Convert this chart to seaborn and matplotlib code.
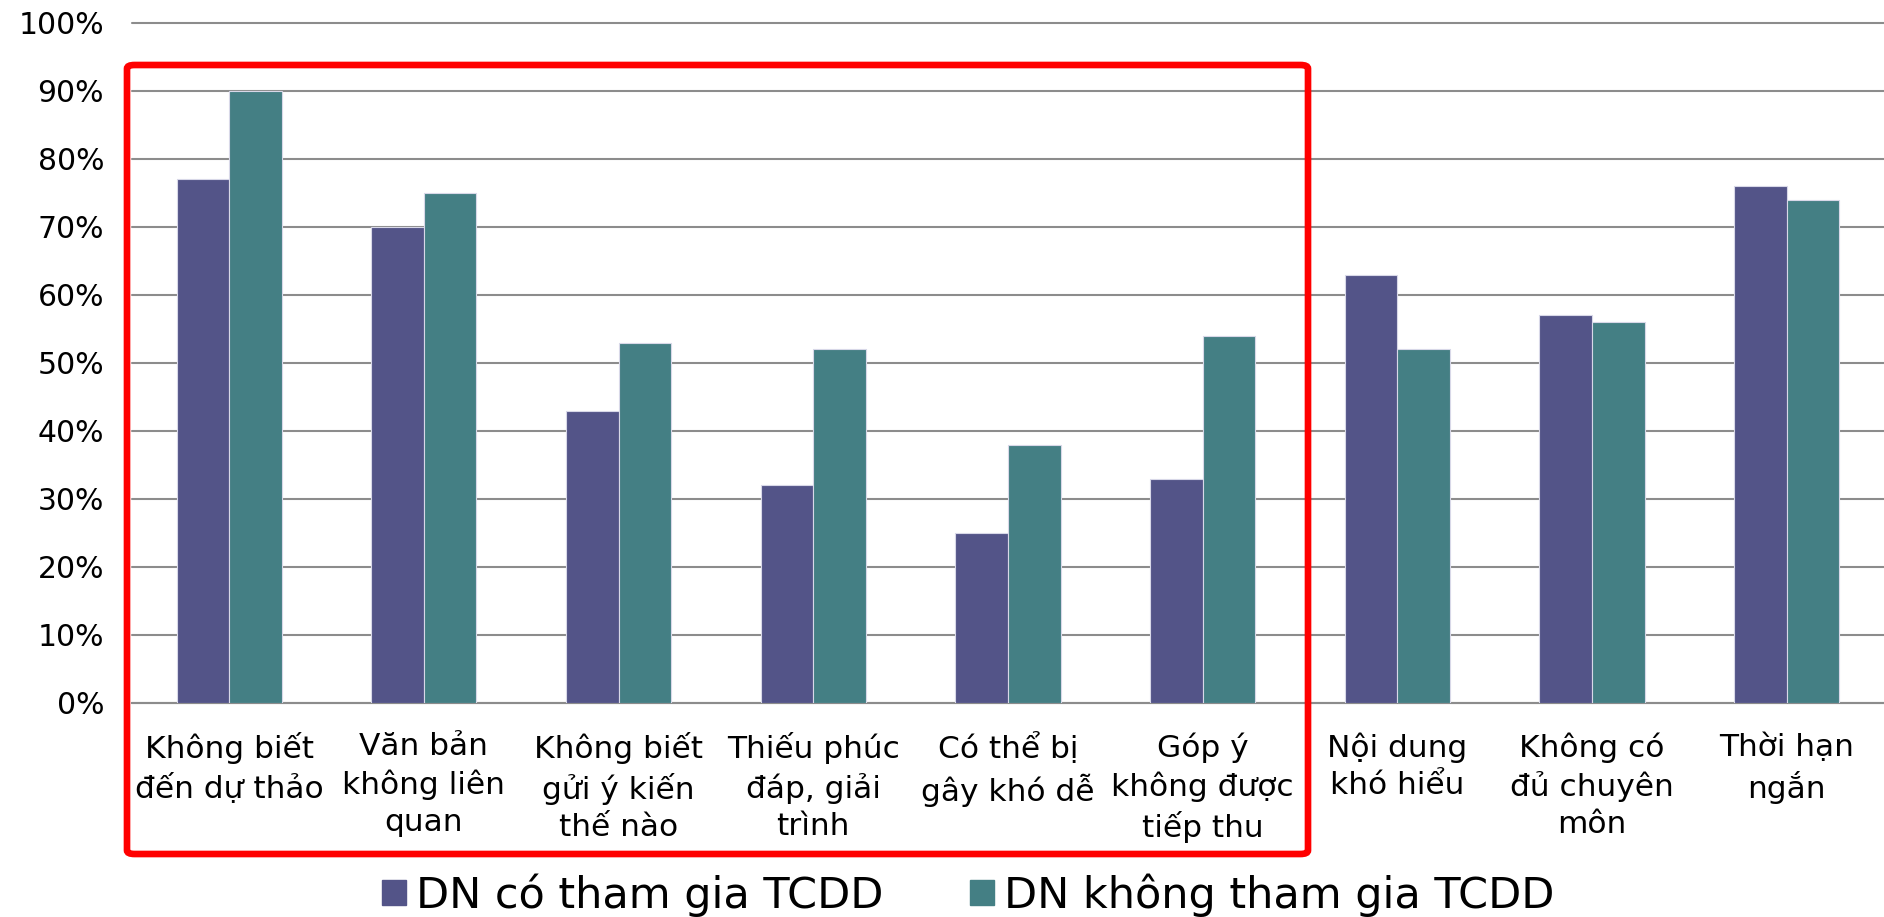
import numpy as np
import pandas as pd
import matplotlib
matplotlib.use("Agg")
import matplotlib.pyplot as plt
from matplotlib.patches import FancyBboxPatch
import seaborn as sns

categories = ["Không biết\nđến dự thảo", "Văn bản\nkhông liên\nquan",
              "Không biết\ngửi ý kiến\nthế nào", "Thiếu phúc\nđáp, giải\ntrình",
              "Có thể bị\ngây khó dễ", "Góp ý\nkhông được\ntiếp thu",
              "Nội dung\nkhó hiểu", "Không có\nđủ chuyên\nmôn", "Thời hạn\nngắn"]
series_names = ["DN có tham gia TCDD", "DN không tham gia TCDD"]
co_tham_gia = [77, 70, 43, 32, 25, 33, 63, 57, 76]
khong_tham_gia = [90, 75, 53, 52, 38, 54, 52, 56, 74]
y_ticks = [0, 10, 20, 30, 40, 50, 60, 70, 80, 90, 100]

colors = ["#535488", "#447F84"]

df = pd.DataFrame({
    "cat": categories * 2,
    "series": [series_names[0]] * len(categories) + [series_names[1]] * len(categories),
    "value": co_tham_gia + khong_tham_gia,
})

sns.set_style("white")
plt.rcParams['font.family'] = ['DejaVu Sans']
plt.rcParams['text.color'] = 'black'
plt.rcParams['xtick.color'] = 'black'
plt.rcParams['ytick.color'] = 'black'

fig = plt.figure(figsize=(18.84, 9.17), dpi=100)
ax = fig.add_axes([0.070, 0.2334, 0.930, 0.975 - 0.2334])

sns.barplot(data=df, x="cat", y="value", hue="series", palette=colors,
            width=0.54, edgecolor="#d8d8e8", linewidth=0.8, ax=ax,
            saturation=1, legend=False, zorder=3)

ax.set_ylim(0, 100)
ax.set_xlim(-0.5, len(categories) - 0.5)
ax.set_yticks(y_ticks)
ax.set_yticklabels([f"{t}%" for t in y_ticks], fontsize=21.5)
ax.tick_params(axis="y", length=0, pad=20)
ax.tick_params(axis="x", length=0, pad=21)
for lbl in ax.get_xticklabels():
    lbl.set_fontsize(22.5)
    lbl.set_linespacing(1.35)
    lbl.set_verticalalignment("top")
ax.set_xlabel("")
ax.set_ylabel("")
ax.yaxis.grid(True, color="#8c8c8c", linewidth=1.5, zorder=0)
for gl in ax.get_ygridlines():
    gl.set_clip_on(False)
ax.set_axisbelow(True)
for s in ["top", "right", "left"]:
    ax.spines[s].set_visible(False)
ax.spines["bottom"].set_color("#8c8c8c")
ax.spines["bottom"].set_linewidth(1.5)

# legend
handles = [plt.Rectangle((0, 0), 1, 1, color=c) for c in colors]
fig.legend(handles, series_names, loc="center", bbox_to_anchor=(0.514, 0.024),
           ncol=2, frameon=False, fontsize=31, handlelength=0.55, handleheight=0.55,
           handletextpad=0.25, columnspacing=2.0)

# red highlight box around first six categories
box = FancyBboxPatch((127 / 1884, 1 - 854 / 917), (1308 - 127) / 1884, (854 - 65) / 917,
                     boxstyle="round,pad=0,rounding_size=0.004", transform=fig.transFigure,
                     fill=False, edgecolor="#ff0000", linewidth=4.8, zorder=10)
fig.patches.append(box)

fig.savefig("out.png", dpi=100)
